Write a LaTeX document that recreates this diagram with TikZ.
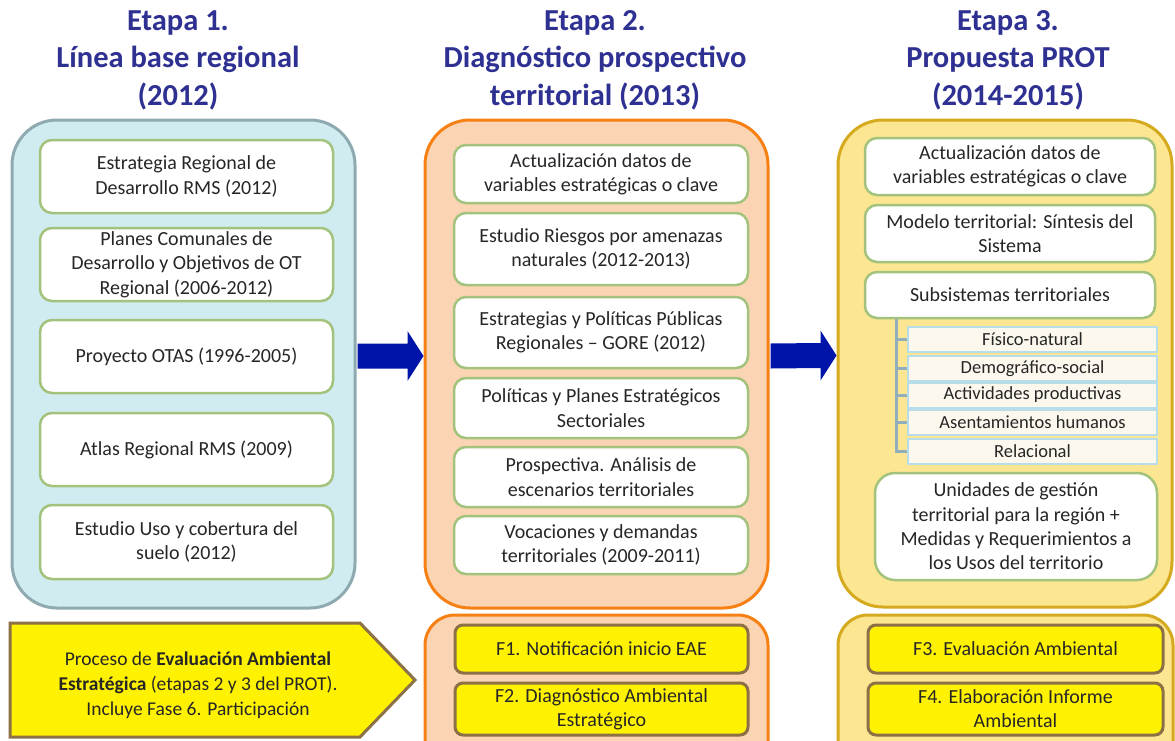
\documentclass[tikz,border=0pt]{standalone}
\usepackage{fontspec}
\setmainfont{Carlito}
\definecolor{titleblue}{RGB}{46,49,146}
\definecolor{bluefill}{RGB}{209,236,240}
\definecolor{blueline}{RGB}{142,170,176}
\definecolor{orangefill}{RGB}{251,212,180}
\definecolor{orangeline}{RGB}{247,128,20}
\definecolor{goldfill}{RGB}{253,230,146}
\definecolor{goldline}{RGB}{214,170,30}
\definecolor{boxline}{RGB}{163,195,125}
\definecolor{subfill}{RGB}{253,248,238}
\definecolor{subline}{RGB}{183,221,232}
\definecolor{treeline}{RGB}{145,175,186}
\definecolor{eaeline}{RGB}{140,112,70}
\definecolor{arrowblue}{RGB}{0,20,170}
\definecolor{txt}{RGB}{38,38,38}
\begin{document}
\begin{tikzpicture}[x=1pt,y=-1pt,
 title/.style={text=titleblue,align=center,font=\fontsize{30.5}{37.5}\selectfont\bfseries},
 stage/.style={line width=3pt,rounded corners=45pt,inner sep=0pt},
 item/.style={draw=boxline,line width=2.5pt,fill=white,rounded corners=12pt,inner sep=0pt,
   align=center,text=txt,font=\fontsize{20}{24.3}\selectfont},
 subitem/.style={draw=subline,line width=2pt,fill=subfill,inner sep=0pt,minimum width=249,
   minimum height=25,text=txt,font=\fontsize{18.5}{20}\selectfont},
 phase/.style={draw=eaeline,line width=3pt,fill=yellow,rounded corners=8pt,inner sep=0pt,
   align=center,text=txt,font=\fontsize{20}{24}\selectfont},
 tree/.style={draw=treeline,line width=3pt}]
\clip (0,0) rectangle (1175,740);
\fill[white] (0,0) rectangle (1175,740);

% titles
\node[title] (t1) at (178,60) {Etapa 1.\\Línea base regional\\(2012)};
\node[title] (t2) at (595,60) {Etapa 2.\\Diagnóstico prospectivo\\territorial (2013)};
\node[title] (t3) at (1008,60) {Etapa 3.\\Propuesta PROT\\(2014-2015)};

% stage containers
\node[stage,draw=blueline,fill=bluefill,minimum width=343,minimum height=488] (c1) at (183.5,364) {};
\node[stage,draw=orangeline,fill=orangefill,minimum width=343,minimum height=488] (c2) at (596.5,364) {};
\node[stage,draw=goldline,fill=goldfill,minimum width=334,minimum height=487] (c3) at (1005,363.5) {};

% etapa 1
\foreach \y/\h/\t [count=\i] in {176.5/73/{Estrategia Regional de\\Desarrollo RMS (2012)},
  264.5/73/{Planes Comunales de\\Desarrollo y Objetivos de OT\\Regional (2006-2012)},
  356.5/73/{Proyecto OTAS (1996-2005)},
  449.5/73/{Atlas Regional RMS (2009)},
  542/74/{Estudio Uso y cobertura del\\suelo (2012)}}
 \node[item,minimum width=293,minimum height=\h] (s1\i) at (186.5,\y) {\t};

% etapa 2
\foreach \y/\h/\t [count=\i] in {174/58/{Actualización datos de\\variables estratégicas o clave},
  249/72/{Estudio Riesgos por amenazas\\naturales (2012-2013)},
  332.5/71/{Estrategias y Políticas Públicas\\Regionales – GORE (2012)},
  408/60/{Políticas y Planes Estratégicos\\Sectoriales},
  477/60/{Prospectiva. Análisis de\\escenarios territoriales},
  545/58/{Vocaciones y demandas\\territoriales (2009-2011)}}
 \node[item,minimum width=294,minimum height=\h] (s2\i) at (601,\y) {\t};

% etapa 3
\node[item,minimum width=290,minimum height=57] (s31) at (1010,166.5) {Actualización datos de\\variables estratégicas o clave};
\node[item,minimum width=290,minimum height=57] (s32) at (1010,233.5) {Modelo territorial: Síntesis del\\Sistema};
\node[item,minimum width=290,minimum height=46] (sub) at (1010,295) {Subsistemas territoriales};
\foreach \y/\t [count=\i] in {339/Físico-natural,368.5/Demográfico-social,395/Actividades productivas,
  422/Asentamientos humanos,451/Relacional}
 \node[subitem] (ss\i) at (1032.5,\y) {\t};
\coordinate (trunk) at ([xshift=-11pt]ss1.west |- sub.south);
\draw[tree] (trunk) |- (ss5.west);
\foreach \i in {1,...,4}
 \draw[tree] (trunk |- ss\i.west) -- (ss\i.west);
\node[item,rounded corners=20pt,minimum width=282,minimum height=107] (ugt) at (1016,526.5)
 {Unidades de gestión\\territorial para la región +\\Medidas y Requerimientos a\\los Usos del territorio};

% block arrows between stages
\foreach \a/\b in {c1/c2,c2/c3}{
 \path ([yshift=8pt]\a.east) coordinate (p) ([yshift=8pt]\b.west) coordinate (q);
 \fill[arrowblue] ([shift={(1,-12.5)}]p) -- ([shift={(-16,-12.5)}]q) -- ([shift={(-16,-25)}]q) -- (q)
  -- ([shift={(-16,25)}]q) -- ([shift={(-16,12.5)}]q) -- ([shift={(1,12.5)}]p) -- cycle;
}

% EAE
\draw[eaeline,line width=3pt,fill=yellow] (10,623) -- (360,623) -- (415,680) -- (360,737) -- (10,737) -- cycle;
\node[align=center,text=txt,font=\fontsize{19.5}{25}\selectfont] (eae) at (198,685)
 {Proceso de \textbf{Evaluación Ambiental}\\\textbf{Estratégica} (etapas 2 y 3 del PROT).\\Incluye Fase 6. Participación};
\node[stage,rounded corners=30pt,draw=orangeline,fill=orangefill,minimum width=343,minimum height=160] (b2) at (596.5,695) {};
\node[stage,rounded corners=30pt,draw=goldline,fill=goldfill,minimum width=335,minimum height=160] (b3) at (1005.5,695) {};
\node[phase,minimum width=293,minimum height=48] (f1) at (601.5,649) {F1. Notificación inicio EAE};
\node[phase,minimum width=293,minimum height=52] (f2) at (601.5,709) {F2. Diagnóstico Ambiental\\Estratégico};
\node[phase,minimum width=295,minimum height=48] (f3) at (1015.5,649) {F3. Evaluación Ambiental};
\node[phase,minimum width=295,minimum height=52] (f4) at (1015.5,709) {F4. Elaboración Informe\\Ambiental};
\end{tikzpicture}
\end{document}
